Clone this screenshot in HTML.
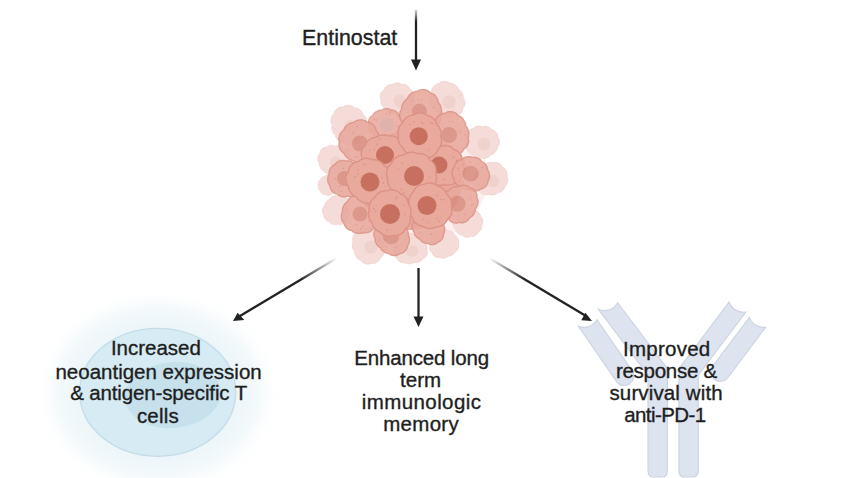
<!DOCTYPE html>
<html><head><meta charset="utf-8">
<style>
html,body{margin:0;padding:0;background:#fff;}
body{width:850px;height:478px;position:relative;overflow:hidden;font-family:"Liberation Sans",sans-serif;color:#1e1e1e;}
svg{position:absolute;left:0;top:0;}
.t{position:absolute;white-space:nowrap;text-align:center;font-size:20.5px;line-height:22.3px;width:300px;-webkit-text-stroke:0.35px #1e1e1e;}
</style></head><body>
<svg width="850" height="478" viewBox="0 0 850 478">
<defs>
<radialGradient id="glow" cx="50%" cy="50%" r="50%">
<stop offset="0.6" stop-color="#ebf5f9"/>
<stop offset="0.8" stop-color="#f4f9fb"/>
<stop offset="1" stop-color="#ffffff" stop-opacity="0"/>
</radialGradient>
<linearGradient id="gl" gradientUnits="userSpaceOnUse" x1="337" y1="258" x2="300" y2="280"><stop offset="0" stop-color="#222" stop-opacity="0"/><stop offset="1" stop-color="#222" stop-opacity="1"/></linearGradient>
<linearGradient id="gr" gradientUnits="userSpaceOnUse" x1="489" y1="258" x2="525" y2="280"><stop offset="0" stop-color="#222" stop-opacity="0"/><stop offset="1" stop-color="#222" stop-opacity="1"/></linearGradient>
<linearGradient id="gt" gradientUnits="userSpaceOnUse" x1="0" y1="10" x2="0" y2="22"><stop offset="0" stop-color="#222" stop-opacity="0.2"/><stop offset="1" stop-color="#222" stop-opacity="1"/></linearGradient>
</defs>
<!-- T cell -->
<ellipse cx="158" cy="392" rx="125" ry="105" fill="url(#glow)"/>
<ellipse cx="157.7" cy="392.3" rx="78" ry="64" fill="#d6ebf3" stroke="#c3dce8" stroke-width="1.3"/>
<ellipse cx="173" cy="395" rx="48" ry="33" fill="#c6e0ec" transform="rotate(-5 173 395)"/>
<!-- antibody -->
<g fill="#dde4f0" stroke="#ccd3e1" stroke-width="1.1">
<path d="M598.36,309.32 A15,15 0 0 0 617.64,302.68 L667.40,368.76 L667.40,471.00 Q667.40,477.00 661.40,477.00 L654.00,477.00 Q648.00,477.00 648.00,471.00 L648.00,375.24 Z"/>
<path d="M729.14,301.98 A15,15 0 0 0 745.86,312.02 L698.30,375.24 L698.30,471.00 Q698.30,477.00 692.30,477.00 L684.90,477.00 Q678.90,477.00 678.90,471.00 L678.90,368.76 Z"/>
<path d="M578.37,326.21 A15,15 0 0 0 597.03,319.79 L632.12,370.60 A9.5,9.5 0 0 1 616.48,381.40 Z"/>
<path d="M749.41,317.38 A15,15 0 0 0 765.79,327.22 L727.79,377.71 A9.5,9.5 0 0 1 712.61,366.29 Z"/>
</g>
<ellipse cx="413" cy="176" rx="75" ry="68" fill="#f7e2df" opacity="0.5"/>
<path d="M365.7,125.0 L366.8,126.2 L366.9,127.5 L366.9,128.8 L366.7,130.1 L366.4,131.3 L365.9,132.5 L365.3,133.7 L364.5,134.7 L363.0,135.1 L363.2,136.9 L362.7,138.2 L361.9,139.4 L361.0,140.4 L360.0,141.3 L358.9,142.1 L357.6,142.7 L356.3,143.1 L354.7,142.5 L353.8,144.1 L352.5,144.7 L351.1,145.1 L349.7,145.3 L348.3,145.2 L346.9,145.0 L345.6,144.5 L344.3,143.8 L343.4,142.1 L341.9,142.6 L340.6,142.2 L339.5,141.5 L338.4,140.7 L337.5,139.7 L336.7,138.7 L336.0,137.5 L335.5,136.3 L335.8,134.6 L334.4,134.1 L333.6,133.2 L333.0,132.1 L332.5,131.0 L332.1,129.8 L331.9,128.6 L331.7,127.4 L331.8,126.2 L332.7,125.0 L331.4,123.8 L331.1,122.5 L331.0,121.2 L331.0,119.8 L331.2,118.5 L331.6,117.2 L332.1,116.0 L332.9,114.9 L334.5,114.5 L334.2,112.6 L334.8,111.3 L335.6,110.1 L336.6,109.1 L337.7,108.3 L338.9,107.6 L340.3,107.1 L341.7,106.8 L343.3,107.6 L344.3,106.1 L345.6,105.6 L346.9,105.4 L348.3,105.3 L349.7,105.5 L351.0,105.8 L352.3,106.2 L353.5,106.9 L354.4,108.5 L355.9,107.9 L357.2,108.3 L358.3,108.8 L359.5,109.5 L360.5,110.3 L361.4,111.3 L362.1,112.3 L362.8,113.5 L362.6,115.1 L364.2,115.5 L365.0,116.5 L365.7,117.6 L366.2,118.7 L366.6,120.0 L366.8,121.2 L366.9,122.5 L366.7,123.8Z" fill="#f5dcd8" stroke="#f0d0cb" stroke-width="0.8"/>
<circle cx="351" cy="127" r="7.1" fill="#f0d2cd"/>
<path d="M414.8,99.0 L415.1,100.2 L415.2,101.4 L415.2,102.6 L414.9,103.9 L414.6,105.0 L414.0,106.1 L413.3,107.1 L412.0,107.8 L412.0,109.2 L411.5,110.3 L410.7,111.3 L409.8,112.1 L408.8,112.9 L407.7,113.4 L406.6,113.8 L405.3,114.0 L403.9,113.6 L403.1,114.6 L402.0,114.9 L400.8,115.1 L399.7,115.2 L398.6,115.1 L397.4,114.8 L396.4,114.5 L395.4,114.0 L394.5,113.0 L393.4,113.3 L392.3,113.1 L391.3,112.8 L390.3,112.4 L389.3,111.9 L388.4,111.3 L387.6,110.6 L386.9,109.7 L386.6,108.6 L385.2,108.3 L384.2,107.6 L383.3,106.8 L382.5,105.9 L381.9,104.9 L381.4,103.8 L381.1,102.6 L381.0,101.4 L381.5,100.2 L380.6,99.0 L380.3,97.8 L380.2,96.5 L380.3,95.2 L380.7,94.0 L381.2,92.9 L381.8,91.8 L382.7,90.9 L384.1,90.3 L384.2,89.0 L384.8,87.9 L385.6,87.0 L386.5,86.3 L387.6,85.6 L388.6,85.1 L389.8,84.7 L391.0,84.6 L392.3,84.9 L393.1,83.9 L394.1,83.4 L395.2,83.2 L396.3,83.0 L397.4,83.0 L398.6,83.1 L399.7,83.3 L400.7,83.7 L401.6,84.6 L402.8,84.2 L403.9,84.3 L405.0,84.6 L406.1,85.0 L407.0,85.6 L407.9,86.3 L408.7,87.1 L409.4,88.0 L409.6,89.2 L410.9,89.6 L411.8,90.4 L412.6,91.2 L413.2,92.2 L413.7,93.3 L414.1,94.4 L414.4,95.5 L414.4,96.7 L413.9,97.9Z" fill="#f5dcd8" stroke="#f0d0cb" stroke-width="0.8"/>
<circle cx="400" cy="101" r="6.3" fill="#f0d2cd"/>
<path d="M464.5,100.0 L464.8,101.2 L464.9,102.5 L464.9,103.8 L464.7,105.1 L464.3,106.3 L463.7,107.4 L462.6,108.3 L462.7,109.8 L462.3,111.1 L461.6,112.3 L460.8,113.3 L459.8,114.2 L458.7,115.0 L457.5,115.6 L456.2,116.0 L454.7,115.8 L453.8,116.9 L452.7,117.5 L451.5,117.9 L450.2,118.1 L448.9,118.1 L447.6,118.0 L446.4,117.7 L445.2,117.2 L444.1,116.2 L442.9,116.6 L441.7,116.4 L440.5,116.0 L439.4,115.5 L438.4,114.9 L437.5,114.1 L436.6,113.3 L435.9,112.3 L435.6,111.0 L434.3,110.6 L433.4,109.9 L432.6,109.0 L432.0,108.0 L431.4,106.9 L431.0,105.8 L430.7,104.7 L430.7,103.5 L431.0,102.2 L430.1,101.2 L429.7,100.0 L429.5,98.8 L429.4,97.5 L429.5,96.3 L429.8,95.1 L430.2,93.9 L430.8,92.8 L431.8,91.9 L431.7,90.4 L432.0,89.1 L432.6,87.9 L433.4,86.8 L434.3,85.9 L435.3,85.0 L436.4,84.3 L437.7,83.9 L439.2,83.9 L440.0,82.7 L441.2,82.1 L442.4,81.6 L443.7,81.4 L445.0,81.4 L446.4,81.5 L447.6,81.8 L448.8,82.4 L449.9,83.5 L451.2,83.2 L452.4,83.5 L453.5,84.0 L454.5,84.6 L455.5,85.3 L456.4,86.1 L457.1,87.0 L457.8,88.0 L458.1,89.3 L459.3,89.7 L460.1,90.5 L460.9,91.3 L461.6,92.2 L462.2,93.2 L462.7,94.3 L463.0,95.4 L463.2,96.6 L462.9,97.8 L464.0,98.8Z" fill="#f5dcd8" stroke="#f0d0cb" stroke-width="0.8"/>
<circle cx="449" cy="102" r="6.7" fill="#f0d2cd"/>
<path d="M350.7,160.0 L350.7,161.2 L350.4,162.3 L350.0,163.4 L349.5,164.4 L348.7,165.4 L347.7,166.1 L347.6,167.2 L347.2,168.2 L346.5,169.1 L345.8,169.9 L345.0,170.6 L344.1,171.2 L343.2,171.7 L342.2,172.1 L341.0,172.2 L340.4,173.1 L339.6,173.7 L338.6,174.2 L337.6,174.6 L336.6,174.9 L335.6,175.0 L334.5,175.0 L333.5,174.8 L332.5,174.3 L331.4,174.8 L330.3,174.8 L329.2,174.7 L328.2,174.4 L327.2,174.0 L326.2,173.4 L325.4,172.8 L324.7,171.9 L324.2,170.9 L323.0,170.6 L322.2,169.9 L321.4,169.2 L320.7,168.3 L320.2,167.4 L319.7,166.4 L319.4,165.3 L319.3,164.2 L319.5,163.1 L318.6,162.2 L318.2,161.1 L318.0,160.0 L317.9,158.9 L317.9,157.7 L318.1,156.6 L318.5,155.6 L319.1,154.6 L320.0,153.7 L319.9,152.5 L320.2,151.4 L320.8,150.4 L321.5,149.5 L322.3,148.7 L323.3,148.1 L324.3,147.6 L325.4,147.2 L326.7,147.3 L327.4,146.4 L328.3,145.9 L329.3,145.6 L330.4,145.4 L331.4,145.3 L332.5,145.4 L333.5,145.6 L334.5,145.9 L335.4,146.5 L336.5,146.1 L337.5,146.1 L338.5,146.2 L339.5,146.4 L340.5,146.7 L341.4,147.2 L342.3,147.7 L343.1,148.3 L343.7,149.3 L345.0,149.4 L346.0,149.9 L346.9,150.6 L347.8,151.4 L348.5,152.3 L349.0,153.3 L349.4,154.4 L349.6,155.5 L349.4,156.7 L350.2,157.7 L350.6,158.8Z" fill="#f5dcd8" stroke="#f0d0cb" stroke-width="0.8"/>
<circle cx="336" cy="162" r="5.9" fill="#f0d2cd"/>
<path d="M499.4,142.0 L499.3,143.2 L499.0,144.4 L498.6,145.5 L498.0,146.6 L497.0,147.5 L497.1,148.7 L496.7,149.8 L496.2,150.9 L495.5,151.8 L494.7,152.7 L493.9,153.4 L492.9,154.1 L491.8,154.6 L490.6,154.8 L490.0,155.9 L489.1,156.6 L488.1,157.2 L487.1,157.7 L486.0,158.0 L484.9,158.2 L483.7,158.2 L482.6,158.1 L481.5,157.6 L480.3,158.1 L479.1,158.2 L478.0,158.1 L476.8,157.9 L475.7,157.5 L474.7,157.0 L473.8,156.3 L472.9,155.4 L472.3,154.4 L471.1,154.1 L470.1,153.5 L469.2,152.7 L468.5,151.8 L467.8,150.9 L467.3,149.8 L466.9,148.7 L466.7,147.6 L466.8,146.4 L465.9,145.4 L465.4,144.3 L465.1,143.2 L464.9,142.0 L464.9,140.8 L465.1,139.6 L465.4,138.5 L465.9,137.4 L466.8,136.5 L466.6,135.2 L466.9,134.0 L467.4,132.9 L468.1,131.9 L468.8,131.0 L469.7,130.2 L470.7,129.5 L471.9,129.0 L473.1,128.9 L473.8,127.8 L474.8,127.2 L475.8,126.7 L476.9,126.3 L478.0,126.1 L479.2,126.0 L480.3,126.1 L481.5,126.3 L482.5,126.9 L483.6,126.4 L484.8,126.3 L485.9,126.4 L487.0,126.6 L488.1,127.0 L489.1,127.4 L490.1,128.0 L490.9,128.8 L491.6,129.7 L492.9,129.9 L494.0,130.4 L494.9,131.1 L495.8,132.0 L496.5,132.9 L497.2,133.9 L497.6,135.0 L497.8,136.2 L497.7,137.5 L498.6,138.5 L499.1,139.6 L499.3,140.8Z" fill="#f5dcd8" stroke="#f0d0cb" stroke-width="0.8"/>
<circle cx="484" cy="144" r="6.3" fill="#f0d2cd"/>
<path d="M350.4,210.0 L350.3,210.9 L350.1,211.8 L349.7,212.7 L349.2,213.5 L349.4,214.5 L349.4,215.5 L349.2,216.5 L348.9,217.4 L348.4,218.3 L347.9,219.1 L347.2,219.9 L346.5,220.5 L345.5,220.9 L345.1,222.0 L344.4,222.8 L343.5,223.4 L342.6,223.9 L341.6,224.3 L340.6,224.5 L339.6,224.6 L338.5,224.5 L337.5,224.1 L336.5,224.6 L335.5,224.7 L334.4,224.6 L333.4,224.4 L332.4,224.1 L331.5,223.7 L330.6,223.1 L329.8,222.4 L329.2,221.6 L328.1,221.4 L327.2,220.9 L326.3,220.3 L325.6,219.6 L324.9,218.8 L324.4,217.9 L324.0,216.9 L323.8,215.9 L323.8,214.8 L323.1,214.0 L322.7,213.0 L322.4,212.0 L322.4,211.0 L322.5,210.0 L322.7,209.0 L323.1,208.0 L323.6,207.2 L324.3,206.4 L324.3,205.4 L324.6,204.5 L325.0,203.6 L325.5,202.8 L326.1,202.1 L326.8,201.4 L327.5,200.8 L328.3,200.3 L329.2,200.0 L329.6,199.0 L330.2,198.2 L330.9,197.5 L331.7,196.9 L332.6,196.4 L333.5,196.0 L334.5,195.7 L335.5,195.6 L336.5,195.7 L337.5,195.0 L338.6,194.7 L339.7,194.6 L340.8,194.6 L341.9,194.9 L343.0,195.3 L343.9,195.8 L344.7,196.6 L345.3,197.6 L346.4,197.9 L347.3,198.6 L348.0,199.3 L348.6,200.2 L349.1,201.2 L349.4,202.2 L349.6,203.3 L349.6,204.4 L349.4,205.5 L350.0,206.3 L350.3,207.2 L350.4,208.1 L350.4,209.1Z" fill="#f5dcd8" stroke="#f0d0cb" stroke-width="0.8"/>
<path d="M385.8,245.0 L385.6,246.2 L385.2,247.3 L384.6,248.3 L384.9,249.6 L384.8,250.7 L384.6,251.9 L384.2,253.1 L383.7,254.2 L383.1,255.2 L382.4,256.2 L381.5,257.0 L380.4,257.7 L380.0,259.0 L379.2,260.1 L378.3,261.1 L377.3,261.9 L376.1,262.6 L374.9,263.1 L373.6,263.4 L372.2,263.4 L370.9,263.1 L369.7,263.9 L368.3,264.1 L367.0,264.1 L365.7,263.9 L364.4,263.4 L363.2,262.8 L362.1,262.0 L361.2,261.1 L360.4,259.9 L359.2,259.6 L358.2,258.9 L357.3,258.0 L356.5,257.0 L355.9,256.0 L355.3,254.9 L354.9,253.8 L354.7,252.6 L354.7,251.4 L353.8,250.5 L353.2,249.5 L352.8,248.4 L352.5,247.3 L352.3,246.2 L352.3,245.0 L352.3,243.8 L352.6,242.7 L353.1,241.6 L352.7,240.3 L352.7,239.0 L352.8,237.8 L353.2,236.6 L353.7,235.4 L354.3,234.3 L355.1,233.4 L356.1,232.6 L357.3,232.0 L357.8,230.7 L358.7,229.7 L359.7,228.8 L360.8,228.1 L362.0,227.6 L363.2,227.3 L364.5,227.1 L365.9,227.2 L367.2,227.5 L368.4,226.8 L369.6,226.6 L370.9,226.6 L372.2,226.8 L373.5,227.1 L374.6,227.6 L375.8,228.3 L376.7,229.1 L377.6,230.2 L378.9,230.4 L380.0,231.0 L381.0,231.7 L381.8,232.6 L382.6,233.6 L383.2,234.7 L383.7,235.8 L383.9,237.1 L383.9,238.3 L384.8,239.2 L385.3,240.3 L385.6,241.5 L385.8,242.6 L385.9,243.8Z" fill="#f5dcd8" stroke="#f0d0cb" stroke-width="0.8"/>
<circle cx="371" cy="247" r="6.7" fill="#f0d2cd"/>
<path d="M482.5,223.0 L482.2,224.0 L481.7,224.9 L481.9,226.0 L481.8,227.0 L481.6,228.0 L481.2,228.9 L480.8,229.8 L480.2,230.6 L479.5,231.4 L478.7,232.0 L477.8,232.5 L477.4,233.4 L476.8,234.2 L476.0,234.9 L475.2,235.5 L474.3,235.9 L473.4,236.3 L472.4,236.5 L471.4,236.5 L470.4,236.3 L469.5,236.9 L468.5,237.2 L467.5,237.3 L466.5,237.2 L465.5,237.1 L464.6,236.8 L463.6,236.4 L462.8,235.8 L462.1,235.2 L461.0,235.1 L460.0,234.8 L459.1,234.3 L458.3,233.8 L457.5,233.1 L456.9,232.3 L456.3,231.5 L455.9,230.6 L455.6,229.6 L454.7,228.9 L454.1,228.1 L453.6,227.1 L453.3,226.1 L453.1,225.1 L453.0,224.0 L453.1,223.0 L453.4,222.0 L453.9,221.0 L453.7,220.0 L453.8,218.9 L454.0,217.9 L454.4,217.0 L455.0,216.1 L455.6,215.3 L456.4,214.6 L457.3,214.0 L458.2,213.6 L458.7,212.7 L459.4,211.9 L460.1,211.3 L461.0,210.8 L461.9,210.4 L462.8,210.1 L463.8,209.9 L464.7,209.9 L465.7,210.0 L466.6,209.4 L467.5,209.1 L468.5,209.0 L469.5,208.9 L470.5,209.0 L471.5,209.2 L472.4,209.5 L473.3,210.0 L474.1,210.6 L475.2,210.6 L476.2,210.9 L477.1,211.3 L478.0,211.9 L478.8,212.6 L479.4,213.4 L480.0,214.3 L480.3,215.3 L480.5,216.3 L481.4,217.0 L481.9,217.9 L482.3,218.9 L482.6,219.9 L482.7,220.9 L482.7,222.0Z" fill="#f5dcd8" stroke="#f0d0cb" stroke-width="0.8"/>
<path d="M427.1,249.0 L426.8,250.2 L427.2,251.4 L427.3,252.7 L427.1,253.9 L426.6,255.1 L426.0,256.1 L425.3,257.1 L424.4,258.0 L423.3,258.6 L422.1,259.2 L421.6,260.2 L420.7,260.9 L419.8,261.5 L418.8,262.0 L417.7,262.4 L416.6,262.6 L415.6,262.7 L414.5,262.7 L413.4,262.6 L412.5,263.2 L411.5,263.5 L410.5,263.7 L409.5,263.8 L408.4,263.8 L407.4,263.7 L406.4,263.5 L405.4,263.1 L404.5,262.6 L403.3,262.8 L402.1,262.7 L401.0,262.3 L400.0,261.9 L399.0,261.2 L398.1,260.5 L397.3,259.6 L396.8,258.6 L396.4,257.5 L395.3,256.8 L394.6,255.9 L394.0,254.8 L393.6,253.7 L393.3,252.5 L393.2,251.4 L393.3,250.2 L393.6,249.0 L394.1,247.9 L393.7,246.7 L393.8,245.6 L394.0,244.4 L394.3,243.3 L394.8,242.2 L395.5,241.3 L396.2,240.4 L397.1,239.6 L398.1,239.0 L398.5,237.9 L399.2,237.0 L400.0,236.2 L400.9,235.5 L401.9,235.0 L403.0,234.6 L404.1,234.3 L405.2,234.3 L406.4,234.4 L407.3,233.8 L408.4,233.6 L409.5,233.5 L410.5,233.5 L411.6,233.7 L412.6,234.0 L413.6,234.5 L414.5,235.0 L415.4,235.7 L416.5,235.7 L417.5,236.0 L418.5,236.4 L419.4,236.9 L420.3,237.5 L421.1,238.2 L421.9,239.0 L422.5,239.9 L423.0,240.9 L424.1,241.5 L425.0,242.3 L425.8,243.3 L426.4,244.3 L426.9,245.4 L427.2,246.6 L427.3,247.8Z" fill="#f5dcd8" stroke="#f0d0cb" stroke-width="0.8"/>
<circle cx="412" cy="251" r="6.1" fill="#f0d2cd"/>
<path d="M458.3,244.0 L458.7,245.0 L458.8,246.1 L458.6,247.1 L458.3,248.1 L457.9,249.1 L457.4,249.9 L456.7,250.7 L455.8,251.4 L455.0,252.0 L454.6,252.9 L454.0,253.6 L453.2,254.3 L452.5,254.8 L451.6,255.3 L450.8,255.7 L449.8,256.0 L448.9,256.1 L448.0,256.2 L447.2,256.9 L446.4,257.4 L445.4,257.7 L444.5,258.0 L443.5,258.1 L442.5,258.2 L441.5,258.1 L440.6,257.8 L439.6,257.4 L438.5,257.7 L437.4,257.6 L436.3,257.3 L435.3,256.9 L434.4,256.3 L433.6,255.6 L432.9,254.7 L432.4,253.7 L432.0,252.7 L431.2,252.0 L430.5,251.2 L430.1,250.2 L429.8,249.2 L429.6,248.1 L429.6,247.1 L429.8,246.0 L430.1,245.0 L430.5,244.0 L430.2,243.0 L430.3,242.1 L430.4,241.1 L430.7,240.2 L431.1,239.3 L431.5,238.4 L432.0,237.6 L432.7,236.9 L433.4,236.3 L433.6,235.3 L434.0,234.4 L434.6,233.5 L435.2,232.8 L436.0,232.1 L436.8,231.6 L437.7,231.1 L438.7,230.9 L439.7,230.8 L440.5,230.0 L441.5,229.6 L442.5,229.3 L443.5,229.2 L444.5,229.2 L445.5,229.4 L446.5,229.7 L447.4,230.2 L448.3,230.8 L449.3,230.8 L450.3,231.0 L451.3,231.4 L452.1,231.9 L452.9,232.6 L453.7,233.3 L454.3,234.0 L454.8,234.9 L455.2,235.8 L456.2,236.4 L456.9,237.1 L457.5,238.0 L458.0,238.9 L458.4,239.9 L458.6,240.9 L458.7,241.9 L458.6,243.0Z" fill="#f5dcd8" stroke="#f0d0cb" stroke-width="0.8"/>
<path d="M337.6,185.0 L337.6,185.7 L337.5,186.3 L337.4,187.0 L337.2,187.6 L336.9,188.2 L336.5,188.8 L336.1,189.3 L335.6,189.8 L335.5,190.5 L335.3,191.1 L334.9,191.7 L334.5,192.2 L334.0,192.7 L333.5,193.1 L332.9,193.5 L332.2,193.7 L331.6,193.9 L331.1,194.5 L330.5,194.8 L329.8,195.1 L329.1,195.3 L328.4,195.4 L327.6,195.4 L326.9,195.2 L326.2,195.0 L325.6,194.7 L324.8,194.7 L324.1,194.6 L323.4,194.4 L322.8,194.0 L322.2,193.6 L321.7,193.1 L321.2,192.5 L320.9,191.9 L320.6,191.2 L319.9,190.9 L319.5,190.3 L319.1,189.7 L318.8,189.1 L318.5,188.4 L318.4,187.8 L318.3,187.1 L318.4,186.3 L318.5,185.7 L318.2,185.0 L318.2,184.3 L318.2,183.6 L318.3,182.9 L318.5,182.3 L318.8,181.6 L319.1,181.1 L319.6,180.5 L320.1,180.1 L320.3,179.4 L320.6,178.8 L321.0,178.2 L321.5,177.8 L322.0,177.3 L322.6,177.0 L323.2,176.7 L323.9,176.5 L324.5,176.4 L325.0,175.9 L325.6,175.5 L326.3,175.2 L327.0,175.1 L327.6,175.0 L328.4,174.9 L329.0,175.0 L329.7,175.2 L330.4,175.5 L331.1,175.3 L331.9,175.4 L332.6,175.5 L333.3,175.8 L333.9,176.2 L334.5,176.7 L335.0,177.2 L335.4,177.9 L335.7,178.5 L336.4,178.9 L336.8,179.5 L337.2,180.1 L337.5,180.8 L337.7,181.5 L337.7,182.2 L337.7,182.9 L337.6,183.7 L337.4,184.3Z" fill="#f5dcd8" stroke="#f0d0cb" stroke-width="0.8"/>
<path d="M507.7,179.0 L507.7,180.2 L507.6,181.3 L507.4,182.5 L507.0,183.6 L506.5,184.6 L505.7,185.6 L505.0,186.4 L504.8,187.6 L504.3,188.6 L503.6,189.6 L502.8,190.4 L502.0,191.2 L501.0,191.8 L499.9,192.3 L498.8,192.5 L497.7,192.8 L496.9,193.6 L495.9,194.1 L494.9,194.5 L493.8,194.8 L492.7,195.0 L491.6,195.0 L490.4,194.9 L489.4,194.6 L488.3,194.4 L487.1,194.7 L485.9,194.7 L484.7,194.6 L483.6,194.3 L482.4,193.8 L481.4,193.3 L480.4,192.5 L479.6,191.6 L478.9,190.7 L477.6,190.2 L476.6,189.4 L475.8,188.5 L475.1,187.4 L474.6,186.3 L474.3,185.1 L474.1,183.8 L474.3,182.6 L474.4,181.3 L474.0,180.2 L473.9,179.0 L474.0,177.8 L474.3,176.7 L474.7,175.5 L475.3,174.5 L476.0,173.5 L476.8,172.7 L477.6,171.9 L477.9,170.8 L478.4,169.9 L479.1,169.0 L479.8,168.2 L480.6,167.4 L481.4,166.8 L482.4,166.2 L483.4,165.8 L484.4,165.4 L485.1,164.4 L486.0,163.7 L487.0,163.2 L488.1,162.7 L489.3,162.4 L490.4,162.2 L491.6,162.3 L492.7,162.5 L493.9,162.8 L495.1,162.5 L496.3,162.6 L497.5,162.8 L498.7,163.2 L499.8,163.8 L500.7,164.5 L501.6,165.4 L502.3,166.5 L502.9,167.5 L504.0,168.1 L504.9,168.9 L505.6,169.9 L506.2,170.9 L506.6,172.1 L506.9,173.2 L507.1,174.4 L507.0,175.6 L506.9,176.8 L507.4,177.9Z" fill="#f5dcd8" stroke="#f0d0cb" stroke-width="0.8"/>
<circle cx="493" cy="181" r="6.3" fill="#f0d2cd"/>
<ellipse cx="410" cy="180" rx="52" ry="50" fill="#e9a89c"/>
<g opacity="0.85"><path d="M401.5,125.0 L402.4,126.1 L402.6,127.3 L402.7,128.5 L402.5,129.7 L402.3,130.9 L401.8,132.1 L401.3,133.1 L400.5,134.1 L399.1,134.5 L399.2,136.1 L398.6,137.1 L397.8,138.1 L396.8,138.9 L395.8,139.5 L394.7,140.1 L393.5,140.4 L392.3,140.5 L390.8,139.9 L390.0,140.9 L388.9,141.2 L387.7,141.3 L386.6,141.2 L385.4,141.0 L384.3,140.8 L383.3,140.3 L382.3,139.8 L381.6,138.6 L380.3,139.0 L379.3,138.8 L378.2,138.4 L377.3,138.0 L376.3,137.4 L375.4,136.8 L374.6,136.0 L373.9,135.2 L373.8,133.9 L372.2,133.6 L371.3,132.8 L370.4,131.9 L369.8,130.9 L369.2,129.8 L368.8,128.7 L368.6,127.4 L368.6,126.2 L369.5,125.0 L368.5,123.8 L368.4,122.5 L368.5,121.3 L368.9,120.1 L369.3,118.9 L370.0,117.9 L370.7,116.9 L371.7,116.1 L373.2,115.7 L373.3,114.3 L374.0,113.4 L374.9,112.6 L375.8,112.0 L376.8,111.4 L377.9,110.9 L379.0,110.5 L380.1,110.3 L381.4,110.8 L382.2,109.7 L383.2,109.2 L384.3,108.9 L385.4,108.7 L386.6,108.7 L387.7,108.8 L388.8,109.0 L389.9,109.4 L390.7,110.5 L392.1,110.0 L393.2,110.2 L394.3,110.6 L395.3,111.2 L396.3,111.8 L397.1,112.6 L397.9,113.5 L398.5,114.5 L398.4,116.0 L399.8,116.4 L400.5,117.3 L401.1,118.3 L401.6,119.3 L402.0,120.4 L402.2,121.6 L402.3,122.7 L402.3,123.9Z" fill="#e9a99d" stroke="#dc9285" stroke-width="1.4"/><circle cx="389.9" cy="112.3" r="0.7" fill="#d98b7f"/><circle cx="376.4" cy="119.9" r="0.7" fill="#d98b7f"/><circle cx="386.4" cy="113.7" r="0.7" fill="#d98b7f"/><circle cx="389.5" cy="114.4" r="0.7" fill="#d98b7f"/><circle cx="374.5" cy="119.5" r="0.7" fill="#d98b7f"/><circle cx="397.1" cy="126.3" r="0.7" fill="#d98b7f"/><circle cx="377.2" cy="131.6" r="0.7" fill="#d98b7f"/><circle cx="387" cy="125" r="7" fill="#dba8a1"/></g>
<g opacity="0.88"><path d="M441.5,112.0 L441.2,113.4 L440.7,114.8 L441.2,116.3 L441.2,117.8 L440.9,119.3 L440.5,120.7 L439.9,122.1 L439.1,123.3 L438.2,124.5 L437.0,125.4 L435.6,126.1 L435.0,127.5 L434.0,128.6 L432.8,129.5 L431.6,130.3 L430.2,130.9 L428.8,131.3 L427.4,131.6 L425.9,131.6 L424.4,131.4 L423.1,132.2 L421.7,132.5 L420.3,132.7 L418.8,132.7 L417.4,132.6 L415.9,132.4 L414.5,131.9 L413.2,131.3 L412.0,130.4 L410.4,130.4 L408.9,130.0 L407.5,129.3 L406.1,128.5 L405.0,127.5 L403.9,126.3 L403.1,125.0 L402.5,123.6 L402.2,122.0 L401.1,120.9 L400.3,119.5 L399.9,118.1 L399.6,116.5 L399.6,115.0 L399.8,113.5 L400.1,112.0 L400.7,110.6 L401.6,109.3 L401.5,107.8 L401.8,106.5 L402.2,105.2 L402.8,103.9 L403.5,102.7 L404.3,101.6 L405.2,100.5 L406.2,99.6 L407.4,98.8 L407.8,97.4 L408.6,96.2 L409.6,95.0 L410.6,94.0 L411.8,93.1 L413.1,92.4 L414.4,91.8 L415.9,91.5 L417.4,91.4 L418.7,90.4 L420.2,89.9 L421.8,89.6 L423.4,89.6 L424.9,89.8 L426.4,90.2 L427.9,90.9 L429.2,91.8 L430.3,93.0 L431.8,93.3 L433.1,94.0 L434.3,94.9 L435.4,96.0 L436.3,97.2 L437.1,98.5 L437.8,99.8 L438.2,101.3 L438.4,102.8 L439.4,103.8 L440.2,105.0 L440.7,106.3 L441.1,107.7 L441.4,109.1 L441.5,110.6Z" fill="#e9a99d" stroke="#dc9285" stroke-width="1.4"/><circle cx="411.7" cy="100.8" r="0.7" fill="#d98b7f"/><circle cx="421.9" cy="127.7" r="0.7" fill="#d98b7f"/><circle cx="414.3" cy="123.0" r="0.7" fill="#d98b7f"/><circle cx="418.4" cy="99.5" r="0.7" fill="#d98b7f"/><circle cx="433.8" cy="107.6" r="0.7" fill="#d98b7f"/><circle cx="413.6" cy="119.6" r="0.7" fill="#d98b7f"/><circle cx="421.5" cy="100.1" r="0.7" fill="#d98b7f"/><circle cx="419.4" cy="111" r="7.5" fill="#d88c7e"/></g>
<g opacity="0.88"><path d="M367.4,179.0 L367.3,180.4 L367.1,181.8 L366.5,183.2 L366.0,184.4 L365.9,185.9 L365.5,187.3 L364.9,188.5 L364.1,189.7 L363.1,190.7 L362.0,191.6 L360.8,192.3 L359.5,192.9 L358.2,193.4 L357.3,194.3 L356.2,195.0 L355.0,195.5 L353.8,195.9 L352.6,196.2 L351.3,196.4 L350.1,196.4 L348.8,196.3 L347.6,196.2 L346.4,196.6 L345.1,196.8 L343.9,196.8 L342.6,196.7 L341.3,196.4 L340.1,196.0 L339.0,195.5 L337.9,194.7 L336.9,193.9 L335.6,193.6 L334.4,193.0 L333.3,192.2 L332.3,191.3 L331.5,190.3 L330.8,189.1 L330.3,187.9 L330.0,186.6 L329.7,185.3 L328.9,184.2 L328.3,183.0 L328.0,181.7 L327.8,180.3 L327.8,179.0 L327.9,177.7 L328.2,176.4 L328.7,175.1 L329.1,173.9 L329.1,172.5 L329.3,171.1 L329.7,169.8 L330.3,168.6 L331.1,167.4 L332.0,166.4 L333.0,165.5 L334.2,164.7 L335.3,164.1 L336.2,162.9 L337.2,162.1 L338.4,161.4 L339.7,160.9 L341.0,160.6 L342.4,160.5 L343.7,160.5 L345.1,160.8 L346.4,161.1 L347.6,160.9 L348.9,161.0 L350.1,161.2 L351.3,161.6 L352.5,162.1 L353.6,162.7 L354.6,163.4 L355.5,164.3 L356.4,165.0 L357.7,165.4 L358.8,165.9 L359.8,166.6 L360.8,167.4 L361.8,168.3 L362.6,169.3 L363.3,170.3 L363.8,171.5 L364.3,172.7 L365.4,173.7 L366.2,174.9 L366.8,176.2 L367.2,177.6Z" fill="#e9a99d" stroke="#dc9285" stroke-width="1.4"/><circle cx="335.7" cy="178.6" r="0.7" fill="#d98b7f"/><circle cx="338.4" cy="190.5" r="0.7" fill="#d98b7f"/><circle cx="343.4" cy="168.3" r="0.7" fill="#d98b7f"/><circle cx="358.0" cy="169.5" r="0.7" fill="#d98b7f"/><circle cx="360.1" cy="182.4" r="0.7" fill="#d98b7f"/><circle cx="339.1" cy="186.5" r="0.7" fill="#d98b7f"/><circle cx="341.3" cy="191.3" r="0.7" fill="#d98b7f"/><circle cx="344.5" cy="178.6" r="7.5" fill="#d88c7e"/></g>
<g opacity="0.9"><path d="M444.6,228.0 L444.6,229.1 L444.6,230.2 L444.5,231.3 L444.2,232.4 L443.7,233.4 L443.4,234.4 L443.4,235.7 L443.1,236.8 L442.7,237.9 L442.1,239.0 L441.4,239.9 L440.5,240.8 L439.5,241.5 L438.4,241.9 L437.4,242.5 L436.5,243.4 L435.4,244.0 L434.3,244.4 L433.1,244.6 L431.9,244.6 L430.7,244.5 L429.6,244.3 L428.5,243.7 L427.4,243.4 L426.3,243.4 L425.2,243.1 L424.2,242.7 L423.2,242.3 L422.3,241.7 L421.5,241.0 L420.7,240.3 L420.1,239.4 L419.3,238.8 L418.3,238.3 L417.5,237.7 L416.7,237.0 L415.9,236.2 L415.3,235.3 L414.7,234.4 L414.3,233.3 L414.1,232.3 L413.7,231.3 L413.0,230.2 L412.6,229.1 L412.3,228.0 L412.2,226.8 L412.3,225.7 L412.5,224.5 L413.0,223.4 L413.6,222.4 L414.1,221.4 L414.3,220.2 L414.8,219.1 L415.4,218.1 L416.2,217.2 L417.0,216.5 L418.0,215.8 L419.0,215.2 L420.2,214.9 L421.1,214.4 L422.0,213.6 L423.0,213.0 L424.0,212.6 L425.1,212.3 L426.2,212.1 L427.3,212.0 L428.4,212.1 L429.5,212.4 L430.6,212.4 L431.8,212.3 L432.9,212.3 L434.0,212.5 L435.1,212.9 L436.1,213.4 L437.1,214.0 L437.9,214.8 L438.6,215.8 L439.3,216.5 L440.3,217.1 L441.1,217.9 L441.8,218.7 L442.3,219.7 L442.8,220.7 L443.1,221.7 L443.4,222.8 L443.4,223.9 L443.6,224.9 L444.1,225.9 L444.4,226.9Z" fill="#e9a99d" stroke="#dc9285" stroke-width="1.4"/><circle cx="432.1" cy="233.7" r="0.7" fill="#d98b7f"/><circle cx="431.2" cy="233.7" r="0.7" fill="#d98b7f"/><circle cx="431.5" cy="226.0" r="0.7" fill="#d98b7f"/><circle cx="431.4" cy="218.3" r="0.7" fill="#d98b7f"/><circle cx="432.3" cy="228.6" r="0.7" fill="#d98b7f"/><circle cx="417.8" cy="223.8" r="0.7" fill="#d98b7f"/><circle cx="420.0" cy="232.9" r="0.7" fill="#d98b7f"/></g>
<g opacity="0.88"><path d="M409.0,237.0 L409.3,238.2 L409.4,239.4 L409.4,240.7 L409.3,242.0 L409.0,243.2 L408.5,244.3 L407.7,245.4 L407.4,246.6 L407.1,248.0 L406.5,249.2 L405.8,250.3 L404.9,251.3 L403.9,252.2 L402.7,252.9 L401.5,253.4 L400.1,253.6 L399.0,254.2 L397.8,254.9 L396.6,255.3 L395.3,255.5 L393.9,255.5 L392.6,255.3 L391.4,255.0 L390.2,254.5 L389.1,253.7 L387.9,253.4 L386.8,253.2 L385.6,252.7 L384.6,252.2 L383.6,251.5 L382.7,250.8 L381.9,250.0 L381.1,249.1 L380.6,248.0 L379.7,247.3 L378.7,246.6 L377.9,245.8 L377.2,244.9 L376.5,243.9 L375.9,242.8 L375.5,241.7 L375.2,240.6 L375.3,239.4 L374.8,238.2 L374.3,237.0 L374.0,235.7 L373.9,234.5 L374.0,233.2 L374.2,231.9 L374.7,230.7 L375.3,229.5 L376.1,228.6 L376.6,227.4 L377.0,226.1 L377.7,225.0 L378.5,223.9 L379.4,223.0 L380.5,222.2 L381.6,221.6 L382.8,221.1 L384.2,221.0 L385.3,220.3 L386.4,219.7 L387.6,219.2 L388.8,218.9 L390.1,218.8 L391.4,218.8 L392.6,219.0 L393.8,219.4 L395.0,220.1 L396.2,220.2 L397.4,220.4 L398.6,220.7 L399.7,221.2 L400.7,221.9 L401.7,222.7 L402.5,223.5 L403.3,224.5 L403.8,225.6 L404.6,226.4 L405.5,227.2 L406.2,228.1 L406.9,229.1 L407.4,230.2 L407.8,231.2 L408.1,232.4 L408.3,233.5 L408.2,234.7 L408.6,235.8Z" fill="#e9a99d" stroke="#dc9285" stroke-width="1.4"/><circle cx="379.4" cy="240.0" r="0.7" fill="#d98b7f"/><circle cx="396.6" cy="224.3" r="0.7" fill="#d98b7f"/><circle cx="396.1" cy="247.7" r="0.7" fill="#d98b7f"/><circle cx="391.6" cy="223.7" r="0.7" fill="#d98b7f"/><circle cx="381.3" cy="227.5" r="0.7" fill="#d98b7f"/><circle cx="380.5" cy="233.6" r="0.7" fill="#d98b7f"/><circle cx="386.6" cy="246.7" r="0.7" fill="#d98b7f"/><circle cx="391" cy="236.4" r="8" fill="#d88c7e"/></g>
<g opacity="0.88"><path d="M378.9,142.0 L379.4,143.4 L379.8,144.8 L379.9,146.2 L379.9,147.7 L379.7,149.2 L379.4,150.6 L378.9,152.0 L378.1,153.3 L377.0,154.4 L376.6,156.0 L376.0,157.5 L375.1,158.8 L374.0,160.0 L372.8,161.0 L371.4,161.8 L369.9,162.3 L368.3,162.6 L366.6,162.5 L365.3,163.2 L363.8,163.6 L362.3,163.8 L360.8,163.7 L359.2,163.5 L357.8,163.1 L356.4,162.5 L355.1,161.7 L353.9,160.6 L352.6,160.4 L351.2,160.0 L349.9,159.4 L348.7,158.7 L347.6,157.9 L346.5,157.0 L345.6,156.0 L344.7,154.8 L344.2,153.5 L343.0,152.6 L341.9,151.6 L341.0,150.5 L340.2,149.2 L339.6,147.8 L339.2,146.4 L339.0,145.0 L339.0,143.5 L339.5,142.0 L339.1,140.5 L338.9,139.0 L339.0,137.5 L339.3,136.1 L339.8,134.7 L340.5,133.3 L341.4,132.1 L342.4,131.0 L343.7,130.2 L344.3,128.8 L345.0,127.5 L345.9,126.4 L347.0,125.4 L348.2,124.5 L349.4,123.7 L350.7,123.0 L352.2,122.6 L353.7,122.5 L354.9,121.6 L356.3,120.8 L357.7,120.3 L359.2,120.0 L360.8,119.9 L362.3,120.0 L363.8,120.3 L365.3,120.9 L366.5,121.9 L368.1,122.1 L369.5,122.5 L370.9,123.1 L372.1,124.0 L373.3,125.0 L374.2,126.2 L375.0,127.5 L375.6,128.9 L375.9,130.5 L376.8,131.5 L377.6,132.7 L378.2,133.9 L378.7,135.2 L379.0,136.6 L379.2,137.9 L379.3,139.3 L379.3,140.7Z" fill="#e9a99d" stroke="#dc9285" stroke-width="1.4"/><circle cx="369.5" cy="155.0" r="0.7" fill="#d98b7f"/><circle cx="357.1" cy="156.9" r="0.7" fill="#d98b7f"/><circle cx="355.7" cy="157.2" r="0.7" fill="#d98b7f"/><circle cx="353.0" cy="133.0" r="0.7" fill="#d98b7f"/><circle cx="375.6" cy="137.9" r="0.7" fill="#d98b7f"/><circle cx="348.3" cy="150.0" r="0.7" fill="#d98b7f"/><circle cx="357.3" cy="126.7" r="0.7" fill="#d98b7f"/><circle cx="360" cy="143.5" r="8" fill="#d88c7e"/></g>
<g opacity="0.88"><path d="M468.8,135.0 L468.6,136.4 L467.8,137.6 L468.5,139.2 L468.6,140.6 L468.5,142.1 L468.1,143.5 L467.6,144.9 L466.9,146.2 L466.1,147.4 L465.0,148.4 L463.5,149.0 L463.0,150.6 L462.1,151.8 L461.0,152.8 L459.8,153.7 L458.5,154.4 L457.1,154.9 L455.6,155.3 L454.1,155.5 L452.5,154.9 L451.2,156.0 L449.7,156.5 L448.2,156.7 L446.7,156.8 L445.2,156.6 L443.7,156.3 L442.2,155.8 L440.9,155.1 L439.9,153.7 L438.1,153.9 L436.6,153.3 L435.3,152.6 L434.1,151.6 L433.0,150.5 L432.1,149.2 L431.4,147.8 L430.9,146.3 L431.1,144.5 L429.9,143.5 L429.3,142.2 L429.0,140.7 L428.8,139.3 L428.9,137.8 L429.0,136.4 L429.4,135.0 L429.9,133.7 L431.0,132.5 L430.6,131.1 L430.7,129.8 L431.0,128.4 L431.4,127.2 L431.9,125.9 L432.5,124.7 L433.2,123.5 L434.0,122.4 L435.3,121.8 L435.5,120.0 L436.2,118.6 L437.1,117.3 L438.1,116.2 L439.3,115.1 L440.6,114.3 L442.1,113.6 L443.6,113.2 L445.2,113.6 L446.6,112.4 L448.2,111.8 L449.8,111.6 L451.4,111.7 L453.1,112.0 L454.6,112.6 L456.0,113.4 L457.3,114.4 L458.2,116.1 L459.8,116.3 L461.1,117.1 L462.2,118.1 L463.2,119.3 L464.0,120.5 L464.7,121.8 L465.3,123.2 L465.7,124.6 L465.5,126.2 L466.7,127.1 L467.4,128.3 L467.9,129.6 L468.3,130.9 L468.6,132.2 L468.8,133.6Z" fill="#e9a99d" stroke="#dc9285" stroke-width="1.4"/><circle cx="449.6" cy="121.1" r="0.7" fill="#d98b7f"/><circle cx="439.0" cy="144.0" r="0.7" fill="#d98b7f"/><circle cx="447.5" cy="147.3" r="0.7" fill="#d98b7f"/><circle cx="434.0" cy="132.6" r="0.7" fill="#d98b7f"/><circle cx="452.8" cy="122.0" r="0.7" fill="#d98b7f"/><circle cx="460.4" cy="131.9" r="0.7" fill="#d98b7f"/><circle cx="464.8" cy="134.6" r="0.7" fill="#d98b7f"/><circle cx="449" cy="135" r="8" fill="#d88c7e"/></g>
<g opacity="1"><path d="M465.2,166.0 L465.2,167.6 L465.0,169.1 L464.4,170.6 L463.6,171.9 L463.8,173.6 L463.4,175.1 L462.8,176.5 L462.0,177.9 L461.0,179.1 L459.9,180.2 L458.6,181.0 L457.1,181.7 L455.5,182.0 L454.6,183.1 L453.3,183.9 L452.0,184.5 L450.6,184.9 L449.2,185.1 L447.8,185.3 L446.4,185.2 L445.0,185.0 L443.6,184.5 L442.3,185.1 L441.0,185.3 L439.6,185.3 L438.2,185.2 L436.8,184.9 L435.5,184.6 L434.2,184.1 L433.0,183.4 L431.9,182.4 L430.3,182.3 L428.8,181.8 L427.4,181.0 L426.2,180.1 L425.1,179.0 L424.1,177.8 L423.4,176.4 L422.9,175.0 L422.8,173.4 L421.6,172.1 L421.0,170.7 L420.6,169.1 L420.5,167.6 L420.6,166.0 L420.9,164.5 L421.4,163.0 L422.1,161.6 L423.2,160.3 L423.2,158.8 L423.6,157.4 L424.3,156.1 L425.1,154.8 L426.1,153.7 L427.1,152.7 L428.3,151.8 L429.5,151.0 L430.9,150.6 L431.7,149.3 L432.8,148.3 L434.0,147.5 L435.2,146.8 L436.6,146.3 L438.0,145.9 L439.4,145.8 L440.9,145.8 L442.3,146.2 L443.7,145.6 L445.2,145.4 L446.6,145.5 L448.1,145.7 L449.5,146.1 L450.8,146.7 L452.0,147.5 L453.1,148.4 L454.0,149.6 L455.5,150.0 L456.8,150.7 L458.0,151.5 L459.0,152.6 L460.0,153.7 L460.8,154.9 L461.5,156.2 L461.9,157.6 L462.1,159.1 L463.3,160.2 L464.1,161.5 L464.6,163.0 L465.0,164.5Z" fill="#e9a99d" stroke="#dc9285" stroke-width="1.4"/><circle cx="428.2" cy="167.7" r="0.7" fill="#d98b7f"/><circle cx="456.4" cy="161.3" r="0.7" fill="#d98b7f"/><circle cx="443.7" cy="179.5" r="0.7" fill="#d98b7f"/><circle cx="456.9" cy="160.2" r="0.7" fill="#d98b7f"/><circle cx="453.4" cy="157.3" r="0.7" fill="#d98b7f"/><circle cx="437.7" cy="150.2" r="0.7" fill="#d98b7f"/><circle cx="454.5" cy="177.1" r="0.7" fill="#d98b7f"/><circle cx="439" cy="165" r="8.5" fill="#c87060"/></g>
<g opacity="0.88"><path d="M489.4,174.0 L489.5,175.3 L489.5,176.6 L489.4,177.9 L489.0,179.2 L488.4,180.3 L487.8,181.5 L487.7,182.9 L487.2,184.1 L486.5,185.3 L485.7,186.3 L484.7,187.3 L483.6,188.0 L482.4,188.6 L481.1,189.0 L479.8,189.3 L478.8,190.1 L477.7,190.5 L476.5,190.9 L475.2,191.0 L474.0,191.0 L472.8,190.9 L471.6,190.6 L470.4,190.2 L469.3,189.8 L468.2,189.9 L467.1,189.8 L465.9,189.6 L464.8,189.2 L463.8,188.8 L462.8,188.3 L461.8,187.6 L460.9,186.9 L460.1,186.1 L458.8,185.7 L457.8,185.1 L456.7,184.4 L455.8,183.5 L455.0,182.5 L454.4,181.4 L453.9,180.2 L453.7,179.0 L453.4,177.7 L452.7,176.6 L452.3,175.3 L452.0,174.0 L452.0,172.7 L452.2,171.4 L452.5,170.1 L453.0,168.9 L453.8,167.7 L454.6,166.7 L454.8,165.4 L455.4,164.2 L456.1,163.2 L456.9,162.2 L457.9,161.3 L458.9,160.6 L460.0,160.0 L461.3,159.6 L462.5,159.2 L463.4,158.3 L464.4,157.7 L465.6,157.2 L466.7,156.9 L468.0,156.7 L469.2,156.7 L470.4,156.8 L471.6,157.1 L472.7,157.5 L473.9,157.3 L475.1,157.4 L476.3,157.6 L477.5,158.0 L478.5,158.6 L479.5,159.2 L480.5,160.0 L481.2,160.9 L482.0,161.8 L483.1,162.3 L484.1,163.0 L484.9,163.9 L485.7,164.8 L486.4,165.8 L486.9,166.9 L487.3,168.1 L487.6,169.3 L487.8,170.4 L488.6,171.5 L489.1,172.7Z" fill="#e9a99d" stroke="#dc9285" stroke-width="1.4"/><circle cx="458.2" cy="170.6" r="0.7" fill="#d98b7f"/><circle cx="459.7" cy="174.4" r="0.7" fill="#d98b7f"/><circle cx="463.5" cy="182.4" r="0.7" fill="#d98b7f"/><circle cx="463.0" cy="164.7" r="0.7" fill="#d98b7f"/><circle cx="482.1" cy="167.5" r="0.7" fill="#d98b7f"/><circle cx="469.8" cy="161.9" r="0.7" fill="#d98b7f"/><circle cx="458.3" cy="168.2" r="0.7" fill="#d98b7f"/><circle cx="470.6" cy="173.7" r="8" fill="#d88c7e"/></g>
<g opacity="1"><path d="M407.3,156.0 L407.4,157.6 L407.3,159.2 L406.9,160.8 L406.4,162.3 L405.7,163.7 L404.8,165.0 L403.6,166.2 L402.7,167.4 L402.2,168.8 L401.3,170.1 L400.3,171.3 L399.2,172.4 L398.0,173.3 L396.7,174.0 L395.3,174.6 L393.7,174.9 L392.4,175.5 L391.1,176.4 L389.7,177.0 L388.3,177.4 L386.8,177.7 L385.3,177.7 L383.7,177.6 L382.3,177.3 L380.8,176.7 L379.4,176.4 L377.9,176.4 L376.4,176.1 L374.9,175.7 L373.5,175.0 L372.2,174.2 L371.0,173.3 L369.9,172.2 L369.0,170.9 L368.0,169.9 L366.6,169.0 L365.4,167.9 L364.4,166.7 L363.6,165.3 L362.9,163.9 L362.4,162.3 L362.2,160.8 L362.2,159.1 L362.0,157.6 L361.5,156.0 L361.2,154.4 L361.3,152.7 L361.5,151.1 L362.0,149.6 L362.7,148.1 L363.6,146.7 L364.8,145.5 L365.8,144.3 L366.4,142.8 L367.3,141.6 L368.4,140.4 L369.6,139.5 L371.0,138.7 L372.4,138.0 L373.8,137.6 L375.4,137.4 L376.8,136.9 L378.1,136.2 L379.4,135.6 L380.8,135.3 L382.3,135.0 L383.8,135.0 L385.2,135.0 L386.7,135.3 L388.1,135.7 L389.5,136.0 L391.1,135.8 L392.6,135.9 L394.1,136.3 L395.6,136.8 L397.0,137.5 L398.3,138.3 L399.5,139.4 L400.4,140.6 L401.5,141.7 L402.9,142.6 L404.1,143.7 L405.1,145.0 L405.9,146.5 L406.5,148.0 L406.9,149.6 L407.1,151.2 L406.9,152.9 L406.9,154.4Z" fill="#e9a99d" stroke="#dc9285" stroke-width="1.4"/><circle cx="379.6" cy="139.3" r="0.7" fill="#d98b7f"/><circle cx="387.7" cy="168.6" r="0.7" fill="#d98b7f"/><circle cx="394.8" cy="167.5" r="0.7" fill="#d98b7f"/><circle cx="369.5" cy="150.1" r="0.7" fill="#d98b7f"/><circle cx="377.1" cy="144.3" r="0.7" fill="#d98b7f"/><circle cx="378.3" cy="172.1" r="0.7" fill="#d98b7f"/><circle cx="374.4" cy="149.3" r="0.7" fill="#d98b7f"/><circle cx="385" cy="155" r="9" fill="#c87060"/></g>
<g opacity="1"><path d="M440.8,136.0 L441.0,137.5 L441.4,139.0 L441.6,140.6 L441.5,142.2 L441.3,143.7 L440.8,145.3 L440.2,146.7 L439.3,148.1 L438.1,149.2 L437.4,150.6 L436.7,152.1 L435.8,153.5 L434.6,154.7 L433.3,155.7 L431.8,156.5 L430.3,157.1 L428.6,157.4 L426.9,157.3 L425.4,157.8 L423.9,158.3 L422.4,158.6 L420.8,158.6 L419.2,158.5 L417.7,158.1 L416.2,157.6 L414.8,156.9 L413.5,155.9 L412.2,155.4 L410.7,155.1 L409.3,154.5 L408.0,153.7 L406.8,152.9 L405.7,151.9 L404.7,150.8 L403.8,149.6 L403.3,148.2 L402.2,147.1 L401.1,146.1 L400.2,144.8 L399.4,143.5 L398.8,142.1 L398.4,140.6 L398.1,139.1 L398.1,137.5 L398.5,136.0 L398.3,134.5 L398.0,132.9 L398.0,131.3 L398.3,129.8 L398.7,128.2 L399.3,126.8 L400.1,125.4 L401.1,124.2 L402.3,123.2 L403.1,121.8 L403.9,120.4 L404.8,119.2 L406.0,118.0 L407.2,117.0 L408.6,116.2 L410.0,115.6 L411.6,115.1 L413.2,115.0 L414.6,114.4 L416.1,113.7 L417.6,113.3 L419.2,113.1 L420.8,113.1 L422.4,113.3 L423.9,113.7 L425.4,114.3 L426.7,115.3 L428.2,115.8 L429.7,116.2 L431.1,116.8 L432.4,117.7 L433.5,118.7 L434.6,119.8 L435.5,121.1 L436.2,122.4 L436.6,123.9 L437.5,125.1 L438.5,126.2 L439.3,127.4 L439.9,128.7 L440.4,130.1 L440.8,131.6 L441.0,133.0 L441.0,134.5Z" fill="#e9a99d" stroke="#dc9285" stroke-width="1.4"/><circle cx="413.9" cy="122.0" r="0.7" fill="#d98b7f"/><circle cx="421.2" cy="121.6" r="0.7" fill="#d98b7f"/><circle cx="422.6" cy="123.3" r="0.7" fill="#d98b7f"/><circle cx="431.1" cy="122.7" r="0.7" fill="#d98b7f"/><circle cx="409.8" cy="124.6" r="0.7" fill="#d98b7f"/><circle cx="428.9" cy="149.6" r="0.7" fill="#d98b7f"/><circle cx="432.6" cy="123.4" r="0.7" fill="#d98b7f"/><circle cx="418.7" cy="136.2" r="9" fill="#c87060"/></g>
<g opacity="0.88"><path d="M378.2,214.5 L378.0,215.8 L377.6,217.0 L377.9,218.3 L378.0,219.7 L377.9,221.0 L377.6,222.3 L377.2,223.6 L376.5,224.8 L375.8,225.9 L374.8,226.9 L373.6,227.6 L372.9,228.8 L372.0,229.9 L371.0,230.8 L369.9,231.6 L368.6,232.2 L367.3,232.6 L366.0,232.9 L364.6,232.9 L363.2,232.6 L361.9,233.0 L360.7,233.4 L359.3,233.4 L358.0,233.4 L356.7,233.1 L355.4,232.8 L354.2,232.3 L353.1,231.6 L352.1,230.7 L350.8,230.4 L349.6,230.0 L348.4,229.3 L347.3,228.6 L346.3,227.7 L345.5,226.7 L344.8,225.6 L344.2,224.4 L344.0,223.0 L343.2,222.0 L342.4,220.9 L341.9,219.7 L341.6,218.4 L341.4,217.1 L341.3,215.8 L341.5,214.5 L341.8,213.2 L342.5,212.0 L342.4,210.8 L342.5,209.5 L342.7,208.2 L343.1,207.0 L343.7,205.8 L344.3,204.7 L345.1,203.7 L346.0,202.7 L347.1,202.0 L347.7,200.8 L348.4,199.7 L349.3,198.7 L350.3,197.7 L351.5,197.0 L352.7,196.3 L353.9,195.9 L355.3,195.6 L356.7,195.8 L358.0,195.2 L359.3,194.7 L360.7,194.6 L362.1,194.6 L363.5,194.9 L364.8,195.3 L366.0,195.9 L367.2,196.7 L368.1,197.9 L369.3,198.3 L370.5,198.9 L371.6,199.7 L372.5,200.6 L373.3,201.6 L374.0,202.7 L374.6,203.9 L375.0,205.1 L375.1,206.4 L375.9,207.4 L376.6,208.4 L377.2,209.6 L377.6,210.8 L377.9,212.0 L378.1,213.2Z" fill="#e9a99d" stroke="#dc9285" stroke-width="1.4"/><circle cx="368.6" cy="221.5" r="0.7" fill="#d98b7f"/><circle cx="360.6" cy="228.5" r="0.7" fill="#d98b7f"/><circle cx="362.9" cy="226.0" r="0.7" fill="#d98b7f"/><circle cx="366.2" cy="205.3" r="0.7" fill="#d98b7f"/><circle cx="346.7" cy="209.2" r="0.7" fill="#d98b7f"/><circle cx="356.3" cy="224.7" r="0.7" fill="#d98b7f"/><circle cx="372.8" cy="220.9" r="0.7" fill="#d98b7f"/><circle cx="360" cy="214" r="7.5" fill="#d88c7e"/></g>
<g opacity="0.88"><path d="M477.7,204.0 L477.4,205.3 L476.9,206.5 L476.3,207.7 L475.2,208.7 L475.4,210.0 L475.1,211.2 L474.6,212.3 L474.1,213.4 L473.4,214.5 L472.6,215.5 L471.8,216.4 L470.8,217.1 L469.6,217.5 L469.0,218.8 L468.2,219.9 L467.2,220.7 L466.0,221.4 L464.9,222.0 L463.6,222.5 L462.3,222.7 L461.0,222.7 L459.6,222.2 L458.3,222.9 L457.0,223.1 L455.6,223.1 L454.3,222.9 L453.0,222.5 L451.7,222.0 L450.6,221.3 L449.5,220.4 L448.8,219.1 L447.4,218.9 L446.2,218.3 L445.1,217.4 L444.1,216.5 L443.3,215.4 L442.5,214.3 L441.9,213.1 L441.6,211.8 L441.7,210.3 L440.6,209.3 L440.0,208.0 L439.6,206.7 L439.4,205.4 L439.4,204.0 L439.6,202.6 L439.9,201.3 L440.5,200.1 L441.6,199.0 L441.5,197.6 L441.9,196.4 L442.5,195.2 L443.2,194.2 L444.1,193.2 L445.1,192.3 L446.1,191.6 L447.3,191.0 L448.7,190.8 L449.3,189.7 L450.3,188.9 L451.3,188.2 L452.4,187.6 L453.5,187.1 L454.7,186.8 L455.9,186.5 L457.1,186.4 L458.4,186.8 L459.6,185.9 L460.9,185.5 L462.3,185.3 L463.7,185.2 L465.1,185.4 L466.4,185.7 L467.7,186.1 L468.9,186.9 L469.8,188.1 L471.3,188.2 L472.7,188.8 L473.8,189.7 L474.8,190.7 L475.7,191.9 L476.3,193.2 L476.8,194.5 L477.0,196.0 L476.6,197.6 L477.5,198.7 L477.8,200.0 L478.0,201.3 L477.9,202.7Z" fill="#e9a99d" stroke="#dc9285" stroke-width="1.4"/><circle cx="471.8" cy="205.5" r="0.7" fill="#d98b7f"/><circle cx="452.8" cy="215.1" r="0.7" fill="#d98b7f"/><circle cx="470.4" cy="198.4" r="0.7" fill="#d98b7f"/><circle cx="464.8" cy="214.5" r="0.7" fill="#d98b7f"/><circle cx="473.2" cy="204.4" r="0.7" fill="#d98b7f"/><circle cx="446.3" cy="204.1" r="0.7" fill="#d98b7f"/><circle cx="445.1" cy="202.2" r="0.7" fill="#d98b7f"/><circle cx="457.5" cy="203.8" r="8" fill="#d88c7e"/></g>
<g opacity="1"><path d="M393.4,181.5 L393.6,183.2 L393.7,184.8 L393.5,186.5 L393.1,188.1 L392.4,189.6 L391.3,191.0 L391.4,192.9 L390.9,194.6 L390.2,196.2 L389.2,197.6 L388.1,199.0 L386.8,200.1 L385.3,201.1 L383.6,201.7 L381.8,201.9 L380.6,203.3 L379.1,204.1 L377.5,204.7 L375.9,205.0 L374.2,205.1 L372.5,205.0 L370.8,204.6 L369.2,204.0 L367.7,203.0 L366.2,203.3 L364.6,203.0 L363.2,202.6 L361.7,201.9 L360.4,201.2 L359.1,200.3 L358.0,199.3 L357.0,198.2 L356.2,196.8 L354.7,196.3 L353.4,195.4 L352.2,194.4 L351.1,193.3 L350.2,192.0 L349.4,190.7 L348.8,189.2 L348.4,187.7 L348.4,186.1 L347.1,184.7 L346.4,183.1 L346.0,181.5 L345.8,179.8 L345.8,178.1 L346.0,176.4 L346.5,174.8 L347.3,173.2 L348.5,171.9 L348.5,170.0 L349.0,168.4 L349.9,166.9 L350.9,165.5 L352.1,164.3 L353.5,163.2 L355.0,162.3 L356.7,161.7 L358.5,161.6 L359.6,160.3 L361.1,159.4 L362.6,158.9 L364.3,158.5 L365.9,158.3 L367.6,158.3 L369.2,158.6 L370.8,159.0 L372.3,159.9 L373.9,159.5 L375.4,159.7 L377.0,160.0 L378.4,160.6 L379.8,161.3 L381.2,162.2 L382.3,163.2 L383.4,164.4 L384.1,165.8 L385.7,166.4 L386.9,167.3 L388.0,168.4 L389.0,169.6 L389.8,171.0 L390.5,172.4 L391.1,173.8 L391.3,175.4 L391.2,177.0 L392.4,178.4 L393.0,179.9Z" fill="#e9a99d" stroke="#dc9285" stroke-width="1.4"/><circle cx="383.3" cy="182.9" r="0.7" fill="#d98b7f"/><circle cx="357.7" cy="170.2" r="0.7" fill="#d98b7f"/><circle cx="358.0" cy="173.8" r="0.7" fill="#d98b7f"/><circle cx="382.1" cy="178.2" r="0.7" fill="#d98b7f"/><circle cx="365.5" cy="164.7" r="0.7" fill="#d98b7f"/><circle cx="363.4" cy="164.3" r="0.7" fill="#d98b7f"/><circle cx="355.0" cy="176.8" r="0.7" fill="#d98b7f"/><circle cx="370" cy="182" r="9.5" fill="#c87060"/></g>
<g opacity="1"><path d="M436.3,176.0 L436.5,177.7 L436.5,179.4 L436.2,181.1 L435.8,182.8 L435.1,184.4 L434.3,185.9 L433.2,187.3 L432.0,188.5 L431.6,190.3 L430.8,191.8 L429.8,193.2 L428.6,194.4 L427.3,195.5 L425.8,196.4 L424.2,197.1 L422.5,197.6 L420.8,197.9 L419.5,198.9 L417.9,199.6 L416.2,200.0 L414.5,200.3 L412.8,200.3 L411.2,200.1 L409.5,199.6 L408.0,198.9 L406.5,198.2 L404.8,198.3 L403.1,197.9 L401.6,197.4 L400.1,196.7 L398.6,195.8 L397.3,194.8 L396.1,193.6 L395.2,192.3 L394.2,190.9 L392.6,190.1 L391.3,188.9 L390.2,187.6 L389.2,186.1 L388.4,184.6 L387.9,182.9 L387.5,181.2 L387.5,179.4 L387.6,177.7 L386.8,176.0 L386.6,174.2 L386.6,172.4 L386.8,170.7 L387.4,168.9 L388.1,167.3 L389.1,165.8 L390.3,164.5 L391.6,163.3 L392.2,161.6 L393.2,160.2 L394.4,159.0 L395.7,157.9 L397.1,156.9 L398.6,156.1 L400.2,155.6 L401.9,155.2 L403.5,155.0 L404.8,154.0 L406.3,153.3 L407.9,152.8 L409.5,152.5 L411.2,152.3 L412.8,152.3 L414.5,152.6 L416.0,153.1 L417.6,153.6 L419.4,153.4 L421.1,153.5 L422.7,154.0 L424.4,154.6 L425.9,155.4 L427.3,156.5 L428.5,157.7 L429.5,159.1 L430.4,160.6 L431.9,161.5 L433.2,162.8 L434.2,164.2 L435.0,165.8 L435.6,167.4 L436.0,169.1 L436.1,170.9 L436.0,172.6 L435.7,174.3Z" fill="#e9a99d" stroke="#dc9285" stroke-width="1.4"/><circle cx="401.2" cy="189.4" r="0.7" fill="#d98b7f"/><circle cx="416.1" cy="191.2" r="0.7" fill="#d98b7f"/><circle cx="402.4" cy="163.3" r="0.7" fill="#d98b7f"/><circle cx="398.4" cy="169.5" r="0.7" fill="#d98b7f"/><circle cx="403.6" cy="192.8" r="0.7" fill="#d98b7f"/><circle cx="429.5" cy="177.1" r="0.7" fill="#d98b7f"/><circle cx="426.1" cy="188.2" r="0.7" fill="#d98b7f"/><circle cx="414" cy="176" r="10" fill="#c87060"/></g>
<g opacity="1"><path d="M451.4,206.0 L451.4,207.5 L451.8,209.1 L451.9,210.7 L451.8,212.2 L451.4,213.8 L450.8,215.3 L450.1,216.7 L449.1,218.0 L447.9,219.0 L446.9,220.2 L446.2,221.7 L445.2,222.9 L444.1,224.0 L442.8,225.0 L441.4,225.8 L439.9,226.4 L438.4,226.8 L436.8,226.9 L435.3,227.1 L433.9,227.9 L432.3,228.3 L430.8,228.5 L429.2,228.5 L427.7,228.4 L426.1,228.0 L424.7,227.4 L423.3,226.6 L421.9,226.0 L420.4,225.8 L418.9,225.2 L417.5,224.5 L416.3,223.6 L415.1,222.5 L414.1,221.3 L413.3,220.0 L412.8,218.5 L412.1,217.2 L411.0,216.1 L410.1,214.8 L409.5,213.5 L409.0,212.0 L408.7,210.5 L408.6,209.0 L408.7,207.5 L409.0,206.0 L409.1,204.5 L408.8,203.0 L408.8,201.5 L408.9,200.0 L409.3,198.4 L409.8,197.0 L410.4,195.6 L411.3,194.3 L412.3,193.2 L413.3,191.9 L413.8,190.4 L414.7,189.0 L415.8,187.8 L417.0,186.7 L418.4,185.8 L419.8,185.1 L421.4,184.7 L423.0,184.5 L424.6,184.2 L426.0,183.4 L427.6,183.1 L429.2,182.9 L430.8,183.0 L432.4,183.3 L433.9,183.8 L435.4,184.5 L436.7,185.4 L438.0,186.2 L439.5,186.5 L440.9,187.2 L442.1,188.0 L443.3,188.9 L444.4,190.0 L445.4,191.2 L446.2,192.4 L446.7,193.8 L447.5,195.1 L448.6,196.1 L449.5,197.3 L450.3,198.6 L450.9,200.0 L451.3,201.5 L451.6,203.0 L451.7,204.5Z" fill="#e9a99d" stroke="#dc9285" stroke-width="1.4"/><circle cx="439.0" cy="221.2" r="0.7" fill="#d98b7f"/><circle cx="441.3" cy="199.6" r="0.7" fill="#d98b7f"/><circle cx="443.7" cy="199.8" r="0.7" fill="#d98b7f"/><circle cx="427.4" cy="222.6" r="0.7" fill="#d98b7f"/><circle cx="437.1" cy="195.4" r="0.7" fill="#d98b7f"/><circle cx="436.8" cy="218.0" r="0.7" fill="#d98b7f"/><circle cx="422.7" cy="219.2" r="0.7" fill="#d98b7f"/><circle cx="427" cy="205.5" r="9.5" fill="#c87060"/></g>
<g opacity="1"><path d="M410.9,213.0 L410.7,214.4 L410.2,215.8 L410.2,217.3 L410.4,218.8 L410.3,220.4 L410.0,221.9 L409.6,223.4 L408.9,224.8 L408.1,226.2 L407.1,227.4 L405.9,228.3 L405.0,229.6 L404.1,231.1 L403.1,232.4 L401.8,233.4 L400.4,234.3 L398.9,235.0 L397.3,235.4 L395.6,235.6 L394.0,235.4 L392.4,235.7 L390.8,236.1 L389.2,236.2 L387.6,236.1 L386.0,235.7 L384.5,235.2 L383.0,234.5 L381.7,233.5 L380.6,232.3 L379.3,231.6 L377.9,231.0 L376.6,230.1 L375.5,229.2 L374.4,228.0 L373.5,226.8 L372.8,225.5 L372.2,224.1 L371.8,222.7 L371.1,221.4 L370.2,220.2 L369.5,218.9 L369.0,217.5 L368.7,216.0 L368.5,214.5 L368.5,213.0 L368.7,211.5 L369.2,210.1 L369.3,208.6 L369.2,207.0 L369.3,205.5 L369.7,204.0 L370.3,202.5 L371.0,201.1 L371.9,199.9 L373.0,198.7 L374.3,197.9 L375.3,196.6 L376.1,195.3 L377.2,194.1 L378.5,193.1 L379.9,192.2 L381.3,191.5 L382.9,191.1 L384.5,190.8 L386.1,190.9 L387.6,190.6 L389.2,190.0 L390.8,189.8 L392.4,189.8 L394.0,190.1 L395.6,190.5 L397.1,191.2 L398.5,192.0 L399.6,193.2 L401.0,194.0 L402.4,194.5 L403.7,195.4 L404.9,196.5 L405.9,197.6 L406.8,198.9 L407.5,200.3 L408.0,201.8 L408.2,203.3 L408.8,204.6 L409.6,205.9 L410.2,207.2 L410.6,208.6 L410.8,210.1 L411.0,211.5Z" fill="#e9a99d" stroke="#dc9285" stroke-width="1.4"/><circle cx="396.8" cy="197.2" r="0.7" fill="#d98b7f"/><circle cx="373.7" cy="208.8" r="0.7" fill="#d98b7f"/><circle cx="404.0" cy="205.0" r="0.7" fill="#d98b7f"/><circle cx="404.7" cy="214.5" r="0.7" fill="#d98b7f"/><circle cx="387.2" cy="230.0" r="0.7" fill="#d98b7f"/><circle cx="395.7" cy="198.6" r="0.7" fill="#d98b7f"/><circle cx="375.8" cy="211.5" r="0.7" fill="#d98b7f"/><circle cx="390" cy="214" r="10" fill="#c87060"/></g>
<!-- arrows -->
<g stroke-width="2.3" fill="none">
<line x1="416" y1="10" x2="416" y2="62" stroke="url(#gt)"/>
<line x1="418.5" y1="268" x2="418.5" y2="319" stroke="#222"/>
<line x1="337" y1="258" x2="240" y2="316" stroke="url(#gl)"/>
<line x1="489" y1="258" x2="586" y2="316" stroke="url(#gr)"/>
</g>
<g fill="#222">
<polygon points="411,59.5 421,59.5 416,70.5"/>
<polygon points="413.5,316.5 423.5,316.5 418.5,327"/>
<polygon points="233,321 237.6,312.7 244.3,320"/>
<polygon points="592,321 585.4,312.8 581.3,320.3"/>
</g>
</svg>
<div class="t" style="left:302.1px;top:27.2px;font-size:21.4px;line-height:23.9px;width:100px;text-align:left;">Entinostat</div>
<div class="t" style="left:5.90px;top:337.45px;letter-spacing:0px;">Increased</div>
<div class="t" style="left:8.60px;top:360.75px;letter-spacing:0px;">neoantigen expression</div>
<div class="t" style="left:8.60px;top:382.35px;letter-spacing:-0.14px;">&amp; antigen-specific T</div>
<div class="t" style="left:7.90px;top:404.75px;letter-spacing:0.2px;">cells</div>
<div class="t" style="left:271.60px;top:346.75px;letter-spacing:-0.17px;">Enhanced long</div>
<div class="t" style="left:270.55px;top:368.85px;letter-spacing:0px;">term</div>
<div class="t" style="left:271.60px;top:391.25px;letter-spacing:0.4px;">immunologic</div>
<div class="t" style="left:271.10px;top:413.35px;letter-spacing:0.3px;">memory</div>
<div class="t" style="left:516.75px;top:337.65px;letter-spacing:0.25px;">Improved</div>
<div class="t" style="left:516.40px;top:359.65px;letter-spacing:-0.28px;">response &amp;</div>
<div class="t" style="left:516.15px;top:381.65px;letter-spacing:0.13px;">survival with</div>
<div class="t" style="left:514.85px;top:403.55px;letter-spacing:-0.6px;">anti-PD-1</div>
</body></html>
